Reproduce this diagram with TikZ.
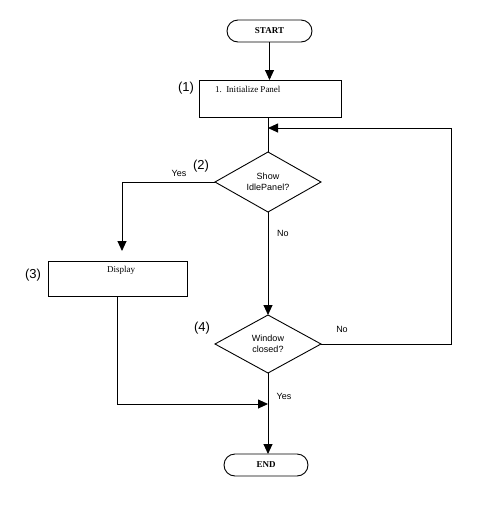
\documentclass[tikz,border=0pt]{standalone}
\usepackage{fontspec}
\setmainfont{Liberation Serif}
\setsansfont{Liberation Sans}
\usetikzlibrary{shapes.geometric,arrows.meta}
\begin{document}
\begin{tikzpicture}[x=1pt,y=-1pt,
  every node/.style={inner sep=0pt,outer sep=0pt},
  line/.style={draw=black,line width=0.9pt},
  arr/.style={line,-{Triangle[length=10pt,width=9pt]}},
  terminal/.style={line,rectangle,rounded corners=11pt,minimum height=22pt,font=\bfseries\fontsize{9}{10}\selectfont},
  proc/.style={line,rectangle},
  decision/.style={line,diamond,minimum width=106pt,minimum height=60pt,shape aspect=1.77,align=center,font=\sffamily\fontsize{9}{11}\selectfont},
  lbl/.style={font=\sffamily\fontsize{9}{10}\selectfont},
  num/.style={font=\sffamily\fontsize{13}{14}\selectfont},
  ptxt/.style={font=\fontsize{9}{10}\selectfont}
]
\useasboundingbox (0,0) rectangle (499,512);
\node[terminal,minimum width=85pt] (start) at (269.5,31) {START};
\node[proc,minimum width=142pt,minimum height=37pt] (init) at (270,98.5) {};
\node[ptxt,anchor=west] (inittxt) at (215,89) {1.\ \ Initialize Panel};
\node[num] (n1) at (186,88) {(1)};
\node[decision] (d2) at (268,182) {Show\\IdlePanel?};
\node[num] (n2) at (201,166) {(2)};
\node[lbl] (yes2) at (179,173) {Yes};
\node[lbl] (no2) at (283,233) {No};
\node[proc,minimum width=139pt,minimum height=35pt] (disp) at (117.5,278.5) {};
\node[ptxt] (disptxt) at (121,270) {Display};
\node[num] (n3) at (33,275) {(3)};
\node[decision,minimum height=58pt] (d4) at (268,344) {Window\\closed?};
\node[num] (n4) at (202,328) {(4)};
\node[lbl] (no4) at (342,329) {No};
\node[lbl] (yes4) at (284,396) {Yes};
\node[terminal,minimum width=84pt] (end) at (266,465) {END};
\coordinate (loopin) at (268,128);
\coordinate (yesend) at (122,251);
\coordinate (merge) at (268,404);
\draw[arr] (start.south) -- (start.south |- init.north);
\draw[line] (d2.north |- init.south) -- (d2.north);
\draw[arr] (d4.east) -- (451,344) -- (451,128) -- (loopin);
\draw[arr] (d2.west) -- (122,182) -- (yesend);
\draw[arr] (d2.south) -- (d4.north);
\draw[arr] (disp.south) |- (merge);
\draw[arr] (d4.south) -- (d4.south |- end.north);
\end{tikzpicture}
\end{document}
